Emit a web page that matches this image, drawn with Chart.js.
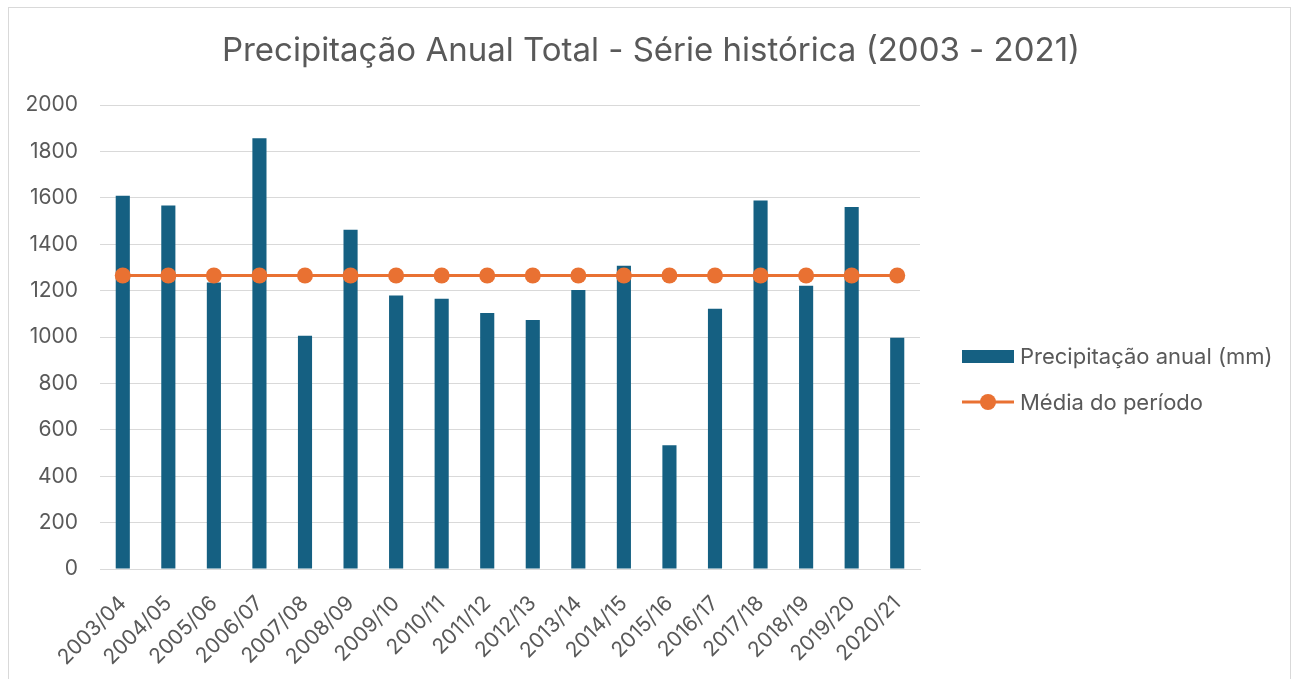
<!DOCTYPE html>
<html>
<head>
<meta charset="utf-8">
<script src="https://cdn.jsdelivr.net/npm/chart.js@4.4.1/dist/chart.umd.min.js"></script>
<style>
  body { margin: 0; background: #fff; }
  #wrap { position: relative; width: 1293px; height: 679px; }
  #frame { position: absolute; left: 8px; top: 7px; width: 1281px; height: 700px; border: 1px solid #d9d9d9; pointer-events: none; }
</style>
</head>
<body>
<div id="wrap">
  <canvas id="rainChart" width="1293" height="679"></canvas>
  <div id="frame"></div>
</div>
<script>
// Data
const seasons = ['2003/04', '2004/05', '2005/06', '2006/07', '2007/08', '2008/09', '2009/10', '2010/11', '2011/12',
  '2012/13', '2013/14', '2014/15', '2015/16', '2016/17', '2017/18', '2018/19', '2019/20', '2020/21'];
const rainfall = [1609, 1567, 1235, 1857, 1005, 1462, 1179, 1165, 1103, 1073, 1203, 1307, 533, 1122, 1588, 1221, 1560, 997];
const periodMean = [1265, 1265, 1265, 1265, 1265, 1265, 1265, 1265, 1265, 1265, 1265, 1265, 1265, 1265, 1265, 1265, 1265, 1265];
const yTicks = [0, 200, 400, 600, 800, 1000, 1200, 1400, 1600, 1800, 2000];
const chartTitle = 'Precipitação Anual Total - Série histórica (2003 - 2021)';

const FONT = 'Inter, "Open Sans", sans-serif';
const GREY = '#595959';
const BLUE = '#156082';
const ORANGE = '#E97132';

// Title and legend drawn on the canvas to get the Excel look (centred title, line with a dot)
const excelDecor = {
  id: 'excelDecor',
  afterDraw(chart) {
    const c = chart.ctx;
    c.save();
    c.textBaseline = 'middle';
    c.fillStyle = GREY;
    c.font = '33px ' + FONT;
    c.textAlign = 'center';
    c.fillText(chartTitle, 651, 51);

    c.textAlign = 'left';
    c.font = '22px ' + FONT;
    // bar item
    c.fillStyle = BLUE;
    c.fillRect(962, 350, 52, 13);
    c.fillStyle = GREY;
    c.fillText(chart.data.datasets[0].label, 1020, 357);
    // line item
    c.strokeStyle = ORANGE;
    c.lineWidth = 3;
    c.beginPath();
    c.moveTo(962, 402);
    c.lineTo(1014, 402);
    c.stroke();
    c.fillStyle = ORANGE;
    c.beginPath();
    c.arc(988, 402, 8, 0, Math.PI * 2);
    c.fill();
    c.fillStyle = GREY;
    c.fillText(chart.data.datasets[1].label, 1020, 403);
    c.restore();
  }
};

const ctx = document.getElementById('rainChart').getContext('2d');
new Chart(ctx, {
  data: {
    labels: seasons,
    datasets: [
      {
        type: 'bar',
        label: 'Precipitação anual (mm)',
        data: rainfall,
        backgroundColor: BLUE,
        categoryPercentage: 1,
        barPercentage: 0.31,
        order: 2
      },
      {
        type: 'line',
        label: 'Média do período',
        data: periodMean,
        borderColor: ORANGE,
        backgroundColor: ORANGE,
        borderWidth: 3,
        pointRadius: 8,
        pointHoverRadius: 8,
        pointBorderWidth: 0,
        order: 1
      }
    ]
  },
  options: {
    responsive: false,
    animation: false,
    layout: { padding: { left: 0, right: 373, top: 105, bottom: 0 } },
    plugins: {
      legend: { display: false },
      tooltip: { enabled: false },
      title: { display: false }
    },
    scales: {
      x: {
        grid: { display: false },
        border: { display: true, color: '#d9d9d9', width: 1 },
        ticks: {
          color: GREY,
          font: { family: FONT, size: 21 },
          minRotation: 45,
          maxRotation: 45,
          padding: 14
        },
        afterFit(scale) { scale.height = 110; }
      },
      y: {
        min: 0,
        max: 2000,
        afterBuildTicks(scale) { scale.ticks = yTicks.map(v => ({ value: v })); },
        grid: { color: '#d9d9d9', lineWidth: 1, drawTicks: false },
        border: { display: false },
        ticks: {
          color: GREY,
          font: { family: FONT, size: 21 },
          padding: 22,
          callback: v => String(v)
        },
        afterFit(scale) { scale.width = 100; }
      }
    }
  },
  plugins: [excelDecor]
});
</script>
</body>
</html>
